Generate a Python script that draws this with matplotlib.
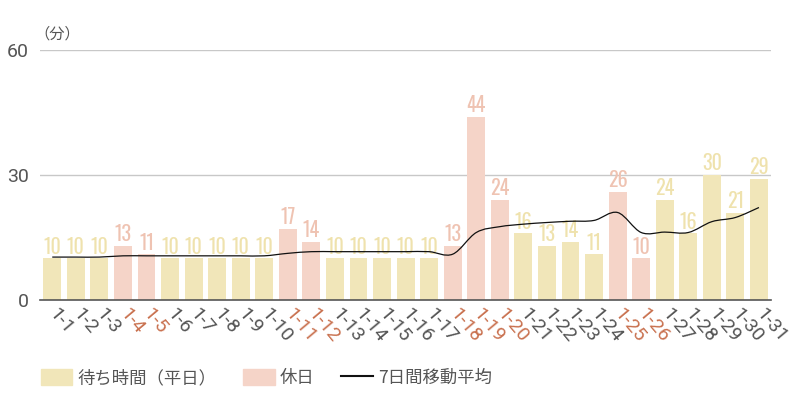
import matplotlib
matplotlib.use("Agg")
import matplotlib.pyplot as plt
from matplotlib.path import Path
from matplotlib.patches import PathPatch, Patch
from matplotlib.lines import Line2D

days = [f"1-{d}" for d in range(1, 32)]
wait = [10, 10, 10, 13, 11, 10, 10, 10, 10, 10, 17, 14, 10, 10, 10, 10, 10,
        13, 44, 24, 16, 13, 14, 11, 26, 10, 24, 16, 30, 21, 29]
holidays = ["1-4", "1-5", "1-11", "1-12", "1-18", "1-19", "1-20", "1-25", "1-26"]
ma7 = [10.3, 10.3, 10.3, 10.6, 10.6, 10.6, 10.6, 10.6, 10.6, 10.6, 11.2, 11.6,
       11.6, 11.6, 11.6, 11.6, 11.6, 11.0, 16.2, 17.6, 18.2, 18.6, 18.9, 19.1,
       21.0, 16.2, 16.3, 16.2, 18.8, 19.8, 22.2]
yticks = [0, 30, 60]

WEEK_C = "#f1e6b9"
HOL_C = "#f5d4c8"
WEEK_T = "#efe2ad"
HOL_T = "#efc3b2"
HOL_TICK = "#c9714f"
GRAY = "#555555"

plt.rcParams['font.family'] = ['Noto Sans CJK JP', 'DejaVu Sans']

fig = plt.figure(figsize=(8, 4), dpi=100)
ax = fig.add_axes([0.05, 0.25, 0.914, 0.625])

x = list(range(len(days)))
is_hol = [d in holidays for d in days]
colors = [HOL_C if h else WEEK_C for h in is_hol]
ax.bar(x, wait, width=0.76, color=colors, zorder=2)

for xi, v, h in zip(x, wait, is_hol):
    ax.text(xi, v + 0.4, str(v), ha='center', va='bottom',
            fontsize=14.5, color=HOL_T if h else WEEK_T,
            family=['Oswald', 'Roboto Condensed', 'DejaVu Sans'],
            zorder=3)

# smooth moving-average line (Catmull-Rom as Bezier)
pts = list(zip(x, ma7))
verts = [pts[0]]
codes = [Path.MOVETO]
n = len(pts)
for i in range(n - 1):
    p0 = pts[i - 1] if i > 0 else pts[i]
    p1 = pts[i]
    p2 = pts[i + 1]
    p3 = pts[i + 2] if i + 2 < n else pts[i + 1]
    c1 = (p1[0] + (p2[0] - p0[0]) / 6, p1[1] + (p2[1] - p0[1]) / 6)
    c2 = (p2[0] - (p3[0] - p1[0]) / 6, p2[1] - (p3[1] - p1[1]) / 6)
    verts += [c1, c2, p2]
    codes += [Path.CURVE4] * 3
ax.add_patch(PathPatch(Path(verts, codes), fill=False, edgecolor='#111111',
                       lw=0.9, zorder=4))

ax.set_xlim(-0.52, 30.52)
ax.set_ylim(0, 60)
ax.set_yticks(yticks)
ax.set_yticklabels([str(t) for t in yticks], family=['Roboto', 'DejaVu Sans'],
                   fontsize=14, color=GRAY)
ax.tick_params(axis='y', length=0, pad=8)
for t in [30, 60]:
    ax.axhline(t, color='#c8c8c8', lw=1, zorder=1)

ax.set_xticks(x)
ax.set_xticklabels(days, rotation=-50, ha='left', va='center',
                   rotation_mode='anchor', fontsize=14,
                   family=['Roboto', 'DejaVu Sans'])
for lab, h in zip(ax.get_xticklabels(), is_hol):
    lab.set_color(HOL_TICK if h else GRAY)
ax.tick_params(axis='x', length=0, pad=8)

for s in ['top', 'right', 'left']:
    ax.spines[s].set_visible(False)
ax.spines['bottom'].set_color(GRAY)
ax.spines['bottom'].set_linewidth(1.2)
ax.spines['bottom'].set_zorder(5)

ax.text(-0.75, 61.8, "（分）", ha='left', va='bottom', fontsize=11,
        color=GRAY, transform=ax.transData)

handles = [Patch(color=WEEK_C), Patch(color=HOL_C),
           Line2D([], [], color='#111111', lw=1.5)]
labels = ["待ち時間（平日）", "休日", "7日間移動平均"]
fig.legend(handles, labels, loc='center left', bbox_to_anchor=(0.036, 0.055),
           ncol=3, frameon=False, fontsize=12.5, handlelength=1.8,
           handleheight=1.0, handletextpad=0.3, columnspacing=1.55,
           labelcolor=GRAY, borderpad=0.2)

fig.savefig("out.png", dpi=100)
